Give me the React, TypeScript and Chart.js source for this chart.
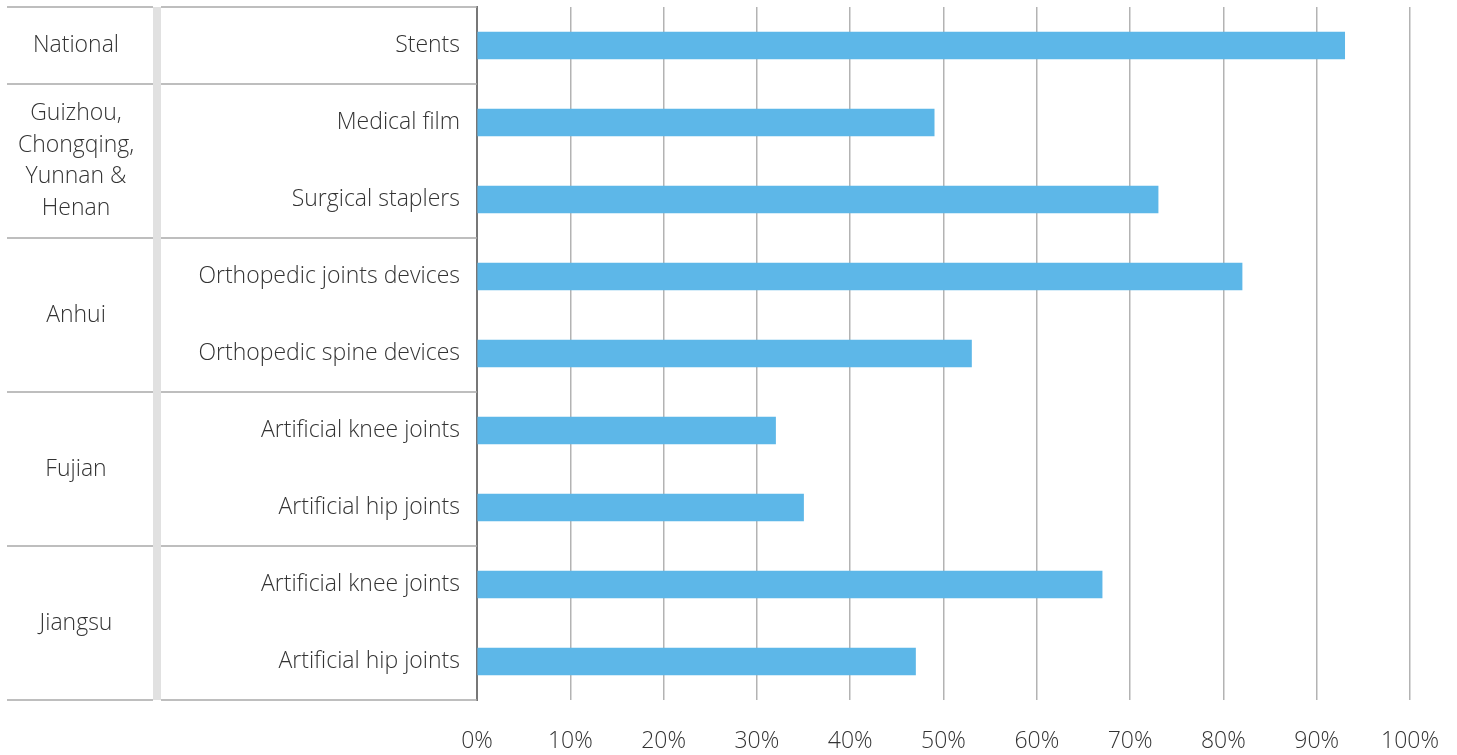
import React, { useEffect, useRef } from "react";
import { Chart, registerables } from "chart.js";

Chart.register(...registerables);

const categories = [
  "Stents",
  "Medical film",
  "Surgical staplers",
  "Orthopedic joints devices",
  "Orthopedic spine devices",
  "Artificial knee joints",
  "Artificial hip joints",
  "Artificial knee joints",
  "Artificial hip joints",
];
const values = [93, 49, 73, 82, 53, 32, 35, 67, 47];
const groupLabels: string[][] = [
  ["National"],
  ["Guizhou,", "Chongqing,", "Yunnan &", "Henan"],
  ["Anhui"],
  ["Fujian"],
  ["Jiangsu"],
];
const groupSizes = [1, 2, 2, 2, 2];
const xTicks = [0, 10, 20, 30, 40, 50, 60, 70, 80, 90, 100];

const FONT = "'Open Sans', 'Noto Sans', sans-serif";
const TEXT = "#333333";
const FSIZE = 23;

const tablePlugin = {
  id: "tablePlugin",
  afterDraw(chart: any) {
    const { ctx, chartArea } = chart;
    const y = chart.scales.y;
    const left = 7;
    const bandL = 153;
    const bandR = 161;
    const right = chartArea.left;
    const top = y.getPixelForValue(-0.5);
    const bottom = y.getPixelForValue(categories.length - 0.5);
    ctx.save();
    ctx.fillStyle = "#e1e1e1";
    ctx.fillRect(bandL, top, bandR - bandL, bottom - top);
    ctx.strokeStyle = "#a9a9a9";
    ctx.lineWidth = 1.5;
    const bounds: number[] = [-0.5];
    let acc = 0;
    groupSizes.forEach((s) => {
      acc += s;
      bounds.push(acc - 0.5);
    });
    bounds.forEach((b) => {
      const py = y.getPixelForValue(b);
      ctx.beginPath();
      ctx.moveTo(left, py);
      ctx.lineTo(bandL, py);
      ctx.moveTo(bandR, py);
      ctx.lineTo(right, py);
      ctx.stroke();
    });
    ctx.fillStyle = TEXT;
    ctx.font = `300 ${FSIZE}px ${FONT}`;
    ctx.textAlign = "center";
    ctx.textBaseline = "middle";
    let start = 0;
    groupSizes.forEach((s, gi) => {
      const y0 = y.getPixelForValue(start - 0.5);
      const y1 = y.getPixelForValue(start + s - 0.5);
      const cy = (y0 + y1) / 2;
      const lines = groupLabels[gi];
      const lh = 31.5;
      lines.forEach((ln, li) => {
        ctx.fillText(ln, 76, cy + (li - (lines.length - 1) / 2) * lh);
      });
      start += s;
    });
    ctx.restore();
  },
};

export default function App() {
  const ref = useRef<HTMLCanvasElement | null>(null);
  useEffect(() => {
    document.body.style.margin = "0";
    const chart = new Chart(ref.current!, {
      type: "bar",
      data: {
        labels: categories,
        datasets: [
          {
            data: values,
            backgroundColor: "#5db7e8",
            borderWidth: 0,
            barThickness: 27,
          },
        ],
      },
      options: {
        indexAxis: "y",
        responsive: false,
        animation: false,
        layout: { padding: { left: 0, top: 7, right: 47, bottom: 0 } },
        plugins: { legend: { display: false }, tooltip: { enabled: false } },
        scales: {
          x: {
            min: 0,
            max: 100,
            afterFit(scale: any) {
              scale.height = 55;
              scale.paddingLeft = 0;
              scale.paddingRight = 0;
              scale.paddingTop = 0;
              scale.paddingBottom = 0;
            },
            afterBuildTicks(scale: any) {
              scale.ticks = xTicks.map((v) => ({ value: v }));
            },
            ticks: {
              callback: (v: any) => v + "%",
              color: TEXT,
              font: { family: FONT, size: FSIZE, weight: "300" as any },
              padding: 28,
              maxRotation: 0,
            },
            grid: {
              color: "#b3b3b3",
              lineWidth: 1.5,
              drawTicks: false,
            },
            border: { display: false },
          },
          y: {
            afterFit(scale: any) {
              scale.width = 477;
              scale.paddingLeft = 0;
              scale.paddingRight = 0;
              scale.paddingTop = 0;
              scale.paddingBottom = 0;
            },
            ticks: {
              color: TEXT,
              font: { family: FONT, size: FSIZE, weight: "300" as any },
              padding: 17,
              autoSkip: false,
            },
            grid: { display: false, drawTicks: false },
            border: { display: true, color: "#777777", width: 2 },
          },
        },
      },
      plugins: [tablePlugin],
    });
    return () => chart.destroy();
  }, []);
  return (
    <div style={{ width: 1457, height: 755 }}>
      <canvas ref={ref} width={1457} height={755} />
    </div>
  );
}
